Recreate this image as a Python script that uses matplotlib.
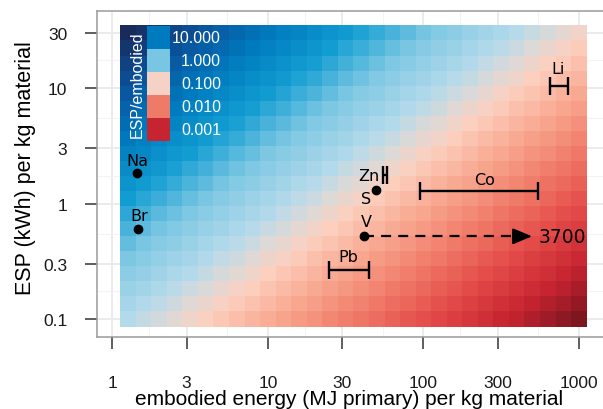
"""ESP vs embodied energy map for storage materials (ggplot-like look)."""
import numpy as np
import matplotlib

matplotlib.use("Agg")
import matplotlib.pyplot as plt  # noqa: E402
from matplotlib.colors import LinearSegmentedColormap, Normalize  # noqa: E402
from matplotlib.patches import Rectangle  # noqa: E402
from matplotlib.ticker import FixedLocator, NullFormatter  # noqa: E402

W, H, DPI = 603, 410, 100

plt.rcParams.update({
    "font.family": ["Liberation Sans", "DejaVu Sans"],
    "axes.edgecolor": "#9a9a9a",
    "axes.linewidth": 1.1,
    "xtick.color": "#333333",
    "ytick.color": "#333333",
    "xtick.labelcolor": "#1a1a1a",
    "ytick.labelcolor": "#1a1a1a",
})

# heat-map grid: cell centres (log spaced)
emb_range = (10 ** 0.1, 1000.0)   # MJ primary per kg
esp_range = (0.1, 30.0)           # kWh per kg
n_emb, n_esp = 30, 20
KWH_TO_MJ = 3.6

# materials with a single estimate
pt_names = ["Na", "Br", "S", "V"]
pt_emb = [1.44, 1.46, 49.5, 41.5]
pt_esp = [1.84, 0.60, 1.31, 0.52]

# materials with an embodied-energy range
rng_names = ["Zn", "Pb", "Co", "Li"]
rng_emb_lo = [55.0, 24.6, 95.0, 650.0]
rng_emb_hi = [58.0, 44.4, 543.0, 849.0]
rng_esp = [1.76, 0.266, 1.28, 10.4]

# vanadium upper estimate runs off the axis
v_arrow_end = 500.0
v_upper_label = "3700"

x_ticks = [1, 3, 10, 30, 100, 300, 1000]
y_ticks = [0.1, 0.3, 1, 3, 10, 30]
legend_vals = [10, 1, 0.1, 0.01, 0.001]
legend_labels = ["10.000", "1.000", "0.100", "0.010", "0.001"]

# colour anchors on log10(ratio)
anchors = [
    (-3.45, "#7e1620"), (-3.0, "#c62430"), (-2.5, "#e34a48"),
    (-2.0, "#f07a68"), (-1.5, "#f8a890"), (-1.05, "#fcd0bf"),
    (-0.8, "#dcd9d7"), (-0.55, "#b4daeb"), (0.0, "#7cc7e3"),
    (0.5, "#129dd2"), (1.0, "#007bbf"), (1.5, "#0a519a"),
    (2.0, "#1b2552"),
]
lo, hi = anchors[0][0], anchors[-1][0]
cmap = LinearSegmentedColormap.from_list(
    "esp", [((v - lo) / (hi - lo), c) for v, c in anchors])
norm = Normalize(lo, hi)

# label offsets in points (style)
pt_off = {"Na": (0, 9), "Br": (1, 10), "S": (-7.2, -6.5), "V": (1.4, 10.5)}
rng_off = {"Pb": (0, 10), "Co": (4.3, 8.5), "Li": (-0.7, 13)}
LABEL_FS = 11.5


def px(x, y):
    """pixel position -> figure fraction"""
    return x / W, 1 - y / H


# grid geometry
emb_c = np.geomspace(*emb_range, n_emb)
esp_c = np.geomspace(*esp_range, n_esp)


def edges(c):
    lc = np.log10(c)
    step = lc[1] - lc[0]
    return 10 ** np.append(lc - step / 2, lc[-1] + step / 2)


E, S = np.meshgrid(emb_c, esp_c)
log_ratio = np.log10(S * KWH_TO_MJ / E)

fig = plt.figure(figsize=(W / DPI, H / DPI), dpi=DPI)
ax = fig.add_axes([97.3 / W, (410 - 338) / H, 512.7 / W, 326 / H])
ax.set_xscale("log")
ax.set_yscale("log")
ax.set_xlim(0.80, 10 ** 3.2)
ax.set_ylim(10 ** -1.156, 10 ** 1.667)
ax.set_axisbelow(True)

ax.pcolormesh(edges(emb_c), edges(esp_c), log_ratio, cmap=cmap, norm=norm,
              shading="flat", zorder=1)

# axes, ticks, grid
ax.xaxis.set_major_locator(FixedLocator(x_ticks))
ax.yaxis.set_major_locator(FixedLocator(y_ticks))
ax.set_xticklabels([f"{t:g}" for t in x_ticks])
ax.set_yticklabels([f"{t:g}" for t in y_ticks])
ax.xaxis.set_minor_locator(FixedLocator(np.sqrt(np.multiply(x_ticks[:-1], x_ticks[1:]))))
ax.yaxis.set_minor_locator(FixedLocator(np.sqrt(np.multiply(y_ticks[:-1], y_ticks[1:]))))
ax.xaxis.set_minor_formatter(NullFormatter())
ax.yaxis.set_minor_formatter(NullFormatter())
ax.tick_params(which="major", length=8.5, width=1.1, labelsize=12.5)
ax.tick_params(axis="x", which="major", pad=19)
ax.tick_params(axis="y", which="major", pad=13)
ax.tick_params(which="minor", length=0)
ax.grid(which="major", color="#ebebeb", lw=1.4)
ax.grid(which="minor", color="#f3f3f3", lw=0.8)

ax.set_xlabel("embodied energy (MJ primary) per kg material", fontsize=15,
              va="baseline")
ax.xaxis.set_label_coords(0.491, (338 - 405.5) / 326)
ax.set_ylabel("ESP (kWh) per kg material", fontsize=15.5, va="center")
ax.yaxis.set_label_coords(-0.141, 0.521)

# materials
ax.plot(pt_emb, pt_esp, "o", color="black", ms=6, zorder=4)
for name, x, y in zip(pt_names, pt_emb, pt_esp):
    ax.annotate(name, (x, y), xytext=pt_off[name], textcoords="offset points",
                ha="center", va="center", fontsize=LABEL_FS, family="DejaVu Sans")

gm = np.sqrt(np.multiply(rng_emb_lo, rng_emb_hi))
ax.errorbar(gm, rng_esp, xerr=[gm - rng_emb_lo, np.subtract(rng_emb_hi, gm)],
            fmt="none", ecolor="black", elinewidth=1.7, capsize=6.5,
            capthick=1.7, zorder=4)
for name, x, lo_x, y in zip(rng_names, gm, rng_emb_lo, rng_esp):
    if name in rng_off:
        ax.annotate(name, (x, y), xytext=rng_off[name], textcoords="offset points",
                    ha="center", va="center", fontsize=LABEL_FS, family="DejaVu Sans")
    else:
        ax.annotate(name, (lo_x, y), xytext=(-2.5, 0), textcoords="offset points",
                    ha="right", va="center", fontsize=LABEL_FS, family="DejaVu Sans")

v_emb, v_esp = pt_emb[pt_names.index("V")], pt_esp[pt_names.index("V")]
ax.plot([v_emb, v_arrow_end * 0.93], [v_esp, v_esp], color="black", lw=1.6,
        ls=(0, (4.5, 3.2)), zorder=4)
ax.annotate("", xy=(v_arrow_end, v_esp), xytext=(v_arrow_end * 0.9, v_esp),
            arrowprops=dict(arrowstyle="-|>,head_length=0.65,head_width=0.27",
                            color="black", lw=1.5, mutation_scale=18,
                            shrinkA=0, shrinkB=0), zorder=4)
ax.annotate(v_upper_label, (v_arrow_end, v_esp), xytext=(5, 0),
            textcoords="offset points", ha="left", va="center",
            fontsize=13.5, family="DejaVu Sans")

# legend drawn over the raster
sw_x0, sw_w, sw_y0, sw_h = 147, 22.5, 27.3, 22.9
for i, (v, lab) in enumerate(zip(legend_vals, legend_labels)):
    y_top = sw_y0 + i * sw_h
    x0, y0 = px(sw_x0, y_top + sw_h)
    fig.add_artist(Rectangle((x0, y0), sw_w / W, sw_h / H, transform=fig.transFigure,
                             facecolor=cmap(norm(np.log10(v))), edgecolor="none",
                             zorder=5))
    fig.text(*px(221, y_top + sw_h / 2), lab, ha="right", va="center",
             color="white", fontsize=11.5, zorder=6)
fig.text(*px(137, 85), "ESP/embodied", rotation=90, ha="center", va="center",
         color="white", fontsize=11.5, zorder=6)

fig.savefig("out.png", dpi=DPI)
